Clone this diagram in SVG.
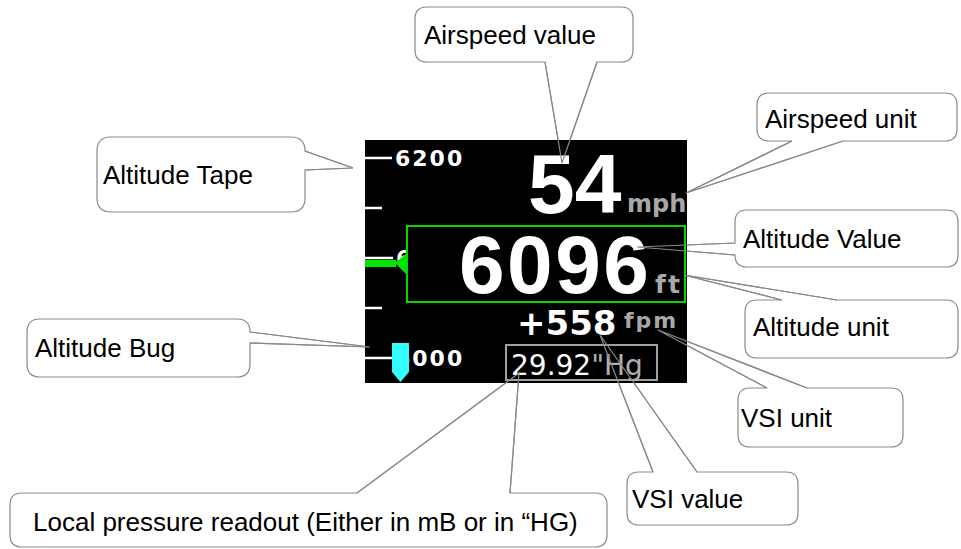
<svg xmlns="http://www.w3.org/2000/svg" width="961" height="549" viewBox="0 0 961 549">
<defs>
<style>
.co{fill:#ffffff;stroke:#8a8a8a;stroke-width:1.2}
.wl{fill:none;stroke:#8a8a8a;stroke-width:1.2;stroke-linejoin:miter}
.lb{font-family:"Liberation Sans",Arial,sans-serif;font-size:26px;fill:#000}
.tk{stroke:#fff;stroke-width:2.5}
.tp{font-family:"DejaVu Sans",sans-serif;font-weight:bold;font-size:22px;fill:#fff;letter-spacing:2px}
.gr{fill:#a8a8a8}
</style>
<clipPath id="cut6"><rect x="365" y="240" width="41" height="30"/></clipPath>
</defs>
<rect width="961" height="549" fill="#fff"/>

<g id="callout-airspeed-value">
<path class="co" d="M427,7 H621 Q633,7 633,19 V50 Q633,62 621,62 H597 L562,163 L545,62 H427 Q415,62 415,50 V19 Q415,7 427,7 Z"/>
<text class="lb" x="424" y="44">Airspeed value</text>
</g>
<g id="callout-altitude-tape">
<path class="co" d="M111,137 H291 Q305,137 305,151 L353,168 L305,170 V198 Q305,212 291,212 H111 Q97,212 97,198 V151 Q97,137 111,137 Z"/>
<text class="lb" x="103" y="184">Altitude Tape</text>
</g>
<g id="callout-altitude-bug">
<path class="co" d="M40,319 H237 Q250,319 250,332 L370,347 L250,343 V364 Q250,377 237,377 H40 Q27,377 27,364 V332 Q27,319 40,319 Z"/>
<text class="lb" x="35" y="357">Altitude Bug</text>
</g>
<g id="callout-airspeed-unit">
<path class="co" d="M769,93 H945 Q957,93 957,105 V129 Q957,141 945,141 H843 L686,193 L792,141 H769 Q757,141 757,129 V105 Q757,93 769,93 Z"/>
<text class="lb" x="765" y="128">Airspeed unit</text>
</g>
<g id="callout-altitude-value">
<path class="co" d="M747,210 H946 Q958,210 958,222 V255 Q958,267 946,267 H747 Q735,267 735,255 L637,247 L735,243 V222 Q735,210 747,210 Z"/>
<text class="lb" x="743" y="248">Altitude Value</text>
</g>
<g id="callout-altitude-unit">
<path class="co" d="M757,300 H782 L684,275 L837,300 H946 Q958,300 958,312 V346 Q958,358 946,358 H757 Q745,358 745,346 V312 Q745,300 757,300 Z"/>
<text class="lb" x="753" y="336">Altitude unit</text>
</g>
<g id="callout-vsi-unit">
<path class="co" d="M750,388 H767 L658,330 L807,388 H891 Q903,388 903,400 V435 Q903,447 891,447 H750 Q738,447 738,435 V400 Q738,388 750,388 Z"/>
<text class="lb" x="741" y="427">VSI unit</text>
</g>
<g id="callout-vsi-value">
<path class="co" d="M639,472 H653 L600,335 L697,472 H786 Q798,472 798,484 V513 Q798,525 786,525 H639 Q627,525 627,513 V484 Q627,472 639,472 Z"/>
<text class="lb" x="632" y="508">VSI value</text>
</g>
<g id="callout-local-pressure">
<path class="co" d="M22,493 H357 L519,373 L510,493 H595 Q607,493 607,505 V535 Q607,547 595,547 H22 Q10,547 10,535 V505 Q10,493 22,493 Z"/>
<text class="lb" x="33" y="531">Local pressure readout (Either in mB or in “HG)</text>
</g>

<g id="screen">
<rect x="365" y="140" width="322" height="243" fill="#000"/>
<line class="tk" x1="365" y1="158" x2="392" y2="158"/>
<line class="tk" x1="365" y1="208" x2="382" y2="208"/>
<line class="tk" x1="365" y1="258" x2="393" y2="258"/>
<line class="tk" x1="365" y1="308" x2="382" y2="308"/>
<line class="tk" x1="365" y1="358" x2="395" y2="358"/>
<text class="tp" x="395" y="166">6200</text>
<text class="tp" x="396" y="266" clip-path="url(#cut6)">6100</text>
<text class="tp" x="395" y="366">6000</text>
<rect x="365" y="260" width="31" height="7" fill="#00e600"/>
<polygon points="395,263 408,252 408,276" fill="#00e600"/>
<polygon points="392,343 409,343 409,372 400.5,382 392,372" fill="#33ffff"/>
<text x="528" y="213" font-family="Liberation Sans,Arial,sans-serif" font-weight="bold" font-size="84" fill="#fff">54</text>
<text x="627" y="212" font-family="DejaVu Sans,sans-serif" font-weight="bold" font-size="24" class="gr">mph</text>
<rect x="407" y="226" width="278" height="76" fill="none" stroke="#00d800" stroke-width="2"/>
<text x="459" y="293" font-family="Liberation Sans,Arial,sans-serif" font-weight="bold" font-size="82" fill="#fff" letter-spacing="2.5">6096</text>
<text x="655" y="293" font-family="DejaVu Sans,sans-serif" font-weight="bold" font-size="25" class="gr" letter-spacing="2">ft</text>
<text x="517" y="335" font-family="DejaVu Sans,sans-serif" font-weight="bold" font-size="34" fill="#fff">+558</text>
<text x="624" y="328" font-family="DejaVu Sans,sans-serif" font-weight="bold" font-size="22" class="gr" letter-spacing="2">fpm</text>
<rect x="506" y="345" width="151" height="35" fill="none" stroke="#a0a0a0" stroke-width="2"/>
<text x="511" y="375" font-family="DejaVu Sans,sans-serif" font-size="28" fill="#fff">29.92<tspan fill="#b0b0b0">"Hg</tspan></text>
</g>

<g id="connectors">
<polyline class="wl" points="597,62 562,163 545,62"/>
<polyline class="wl" points="305,151 353,168 305,170"/>
<polyline class="wl" points="250,332 370,347 250,343"/>
<polyline class="wl" points="843,141 686,193 792,141"/>
<polyline class="wl" points="735,255 637,247 735,243"/>
<polyline class="wl" points="782,300 684,275 837,300"/>
<polyline class="wl" points="767,388 658,330 807,388"/>
<polyline class="wl" points="653,472 600,335 697,472"/>
<polyline class="wl" points="357,493 519,373 510,493"/>
</g>
</svg>
